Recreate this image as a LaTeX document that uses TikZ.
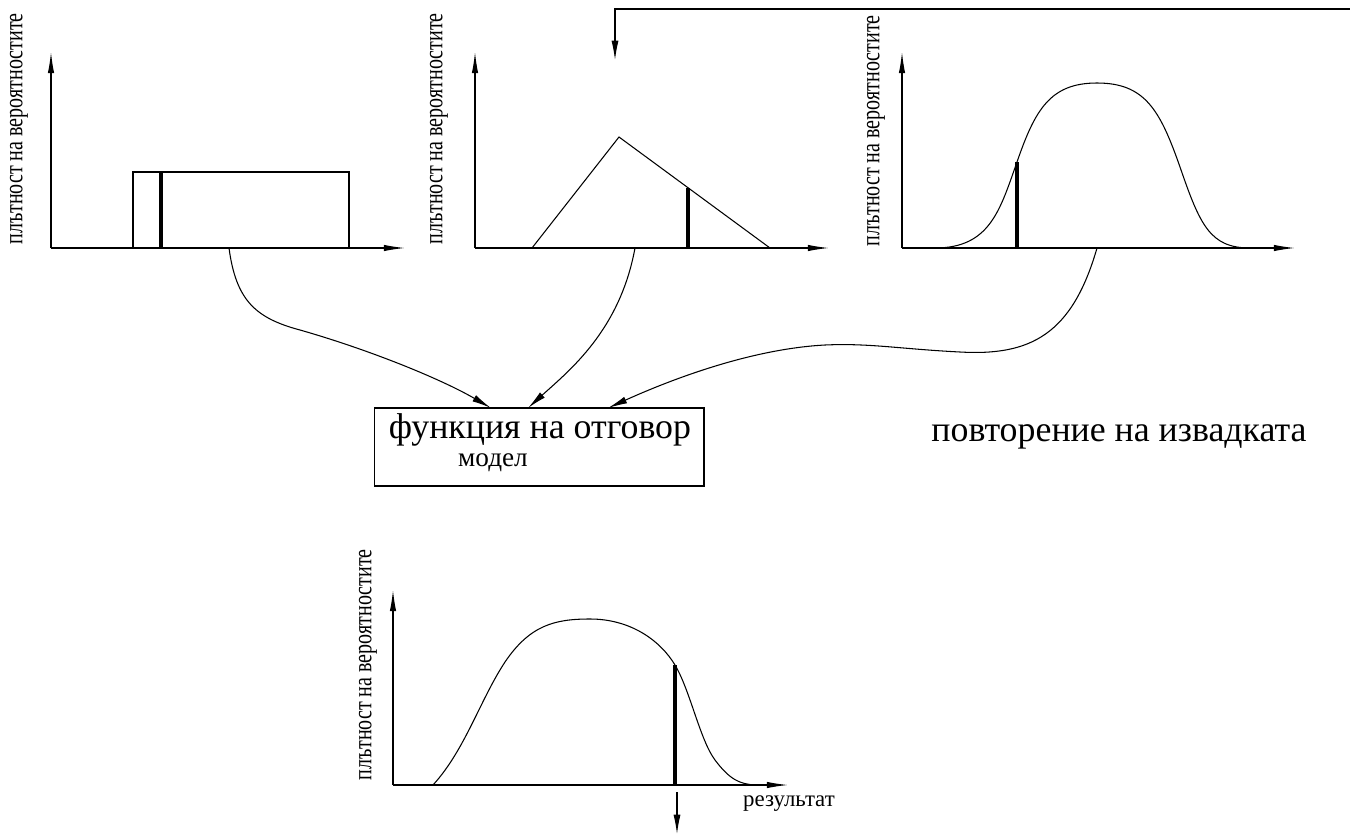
\documentclass[tikz,border=0pt]{standalone}
\usepackage{fontspec}
\setmainfont{Liberation Serif}
\usetikzlibrary{arrows.meta}
\begin{document}
\begin{tikzpicture}[x=0.02cm,y=-0.02cm,
  thinline/.style={line width=0.6pt},
  axis/.style={line width=0.6pt,-{Latex[length=12pt,width=3.6pt]}},
  conn/.style={line width=0.6pt,-{Latex[length=11pt,width=4pt]}},
  markline/.style={line width=2pt},
  ylab/.style={rotate=90,inner sep=0pt,font=\fontsize{15}{15}\selectfont},
  big/.style={inner sep=0pt,anchor=base,font=\fontsize{20.4}{20.4}\selectfont},
  small/.style={inner sep=0pt,anchor=base,font=\fontsize{15.5}{15.5}\selectfont}
]
\useasboundingbox (0,0) rectangle (1350,835);

% ---- chart 1 (uniform)
\coordinate (o1) at (51,248);
\draw[axis] (o1) -- (51,52);
\draw[axis] (o1) -- (405,248);
\draw[thinline] (133,248) rectangle (349,172);
\draw[markline] (161,248) -- (161,172);
\node[ylab] (l1) at (19,129) {\scalebox{0.76}[1]{плътност на вероятностите}};
\coordinate (s1) at (229,248);

% ---- chart 2 (triangular)
\coordinate (o2) at (475,248);
\draw[axis] (o2) -- (475,52);
\draw[axis] (o2) -- (829,248);
\draw[thinline] (532,248) -- (619,137) -- (770,248);
\draw[markline] (688,248) -- (688,188);
\node[ylab] (l2) at (439,129) {\scalebox{0.76}[1]{плътност на вероятностите}};
\coordinate (s2) at (635,248);

% ---- chart 3 (normal)
\coordinate (o3) at (902,248);
\draw[axis] (o3) -- (902,52);
\draw[axis] (o3) -- (1295,248);
\draw[thinline] (935,248) .. controls (990,248) and (1000,210) .. (1017,162)
  .. controls (1035,110) and (1050,83) .. (1097,83)
  .. controls (1145,83) and (1160,110) .. (1180,167)
  .. controls (1200,225) and (1210,248) .. (1250,248);
\draw[markline] (1017,248) -- (1017,162);
\node[ylab] (l3) at (876,131) {\scalebox{0.76}[1]{плътност на вероятностите}};
\coordinate (s3) at (1097,248);

% ---- top feedback connector
\coordinate (t0) at (1350,9);
\coordinate (t1) at (615,9);
\coordinate (t2) at (615,60);
\draw[conn] (t0) -- (t1) -- (t2);

% ---- response function box
\node[draw,thinline,minimum width=6.6cm,minimum height=1.56cm,inner sep=0pt] (resp) at (539,447) {};
\node[big] (rt) at (540,438) {функция на отговор};
\node[small] (rm) at (493,466) {модел};
\coordinate (e1) at (491,408);
\coordinate (e2) at (528,408);
\coordinate (e3) at (608,408);

\draw[conn] (s1) .. controls (236,300) and (255,318) .. (300,330) .. controls (370,350) and (441,379) .. (e1);
\draw[conn] (s2) .. controls (620,330) and (570,370) .. (e2);
\draw[conn] (s3) .. controls (1072,335) and (1030,356) .. (960,352) .. controls (900,349) and (870,343) .. (825,345) .. controls (750,349) and (670,380) .. (e3);

\node[big] (rep) at (1119,441) {повторение на извадката};

% ---- result chart
\coordinate (o4) at (393,785);
\draw[axis] (o4) -- (393,590);
\draw[axis] (o4) -- (788,785);
\draw[thinline] (433,785) .. controls (465,750) and (480,700) .. (505,662)
  .. controls (530,625) and (555,619) .. (590,619)
  .. controls (630,619) and (660,640) .. (675,665)
  .. controls (690,690) and (700,740) .. (715,760)
  .. controls (730,780) and (740,784) .. (755,785);
\draw[markline] (675,785) -- (675,665);
\node[ylab] (l4) at (368,665) {\scalebox{0.76}[1]{плътност на вероятностите}};
\coordinate (d1) at (677,792);
\coordinate (d2) at (677,834);
\draw[conn] (d1) -- (d2);
\node[inner sep=0pt,anchor=base,font=\fontsize{13}{13}\selectfont] (res) at (789,806) {результат};
\end{tikzpicture}
\end{document}
